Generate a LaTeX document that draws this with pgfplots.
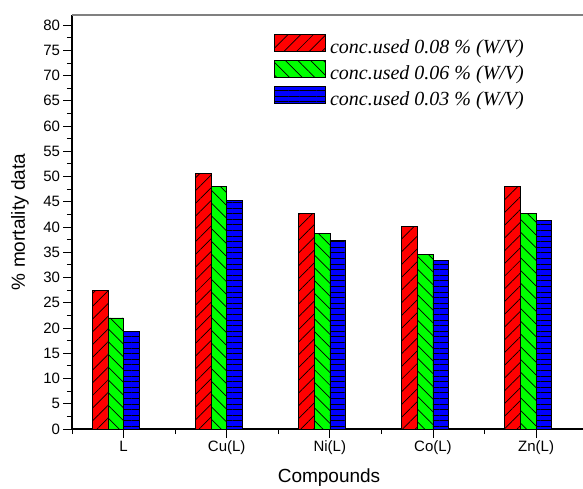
\documentclass[border=0pt]{standalone}
\usepackage{fontspec}
\setmainfont{Liberation Sans}
\newfontfamily\legendfont{Liberation Serif}
\usepackage{pgfplots}
\pgfplotsset{compat=1.18}
\usetikzlibrary{patterns.meta}
\begin{document}
\begin{tikzpicture}
\begin{axis}[
  name=ax,
  at={(0,0)}, anchor=south west,
  scale only axis,
  width=511pt, height=414pt,
  xmin=-0.5, xmax=4.455,
  ymin=0, ymax=82,
  axis x line*=bottom, axis y line*=left,
  axis line style={line width=1.1pt, black},
  xtick={0,1,2,3,4},
  xticklabels={L,Cu(L),Ni(L),Co(L),Zn(L)},
  minor xtick={-0.5,0.5,1.5,2.5,3.5},
  ytick={0,5,...,80},
  minor ytick={2.5,7.5,...,77.5},
  tick align=outside,
  major tick length=8.5pt,
  minor tick length=5pt,
  every tick/.style={black, line width=0.9pt},
  /pgf/number format/assume math mode=true,
  ticklabel style={font=\fontsize{15}{18}\selectfont},
  xlabel={Compounds},
  ylabel={\% mortality data},
  label style={font=\fontsize{19}{22}\selectfont},
  xlabel style={at={(axis description cs:0.503,-0.1184)}, anchor=center},
  ylabel style={at={(axis description cs:-0.1018,0.5)}, anchor=center},
  bar width=0.152,
  legend image code/.code={%
    \pgfpathrectangle{\pgfpoint{0pt}{-3.5pt}}{\pgfpoint{51pt}{20pt}}\pgfusepath{use as bounding box}%
    \draw[#1] (0pt,-3.3pt) rectangle (51pt,14.1pt);},
  legend cell align=left,
  legend style={at={(axis description cs:0.395,0.9595)}, anchor=north west,
    draw=none, fill=none, inner sep=0pt, row sep=0pt, column sep=5pt,
    font=\legendfont\itshape\fontsize{20}{22}\selectfont,
    nodes={inner sep=0pt, text height=14.5pt, text depth=4pt}},
]
\addplot[ybar, bar shift=-0.228, draw=black, line width=0.6pt, fill=red,
  postaction={pattern={Lines[angle=45,distance=9pt,line width=0.7pt]}, pattern color=black}]
  coordinates {(0,27.4) (1,50.7) (2,42.7) (3,40.1) (4,48.1)};
\addlegendentry{conc.used 0.08 \% (W/V)}
\addplot[ybar, bar shift=-0.076, draw=black, line width=0.6pt, fill=green,
  postaction={pattern={Lines[angle=-45,distance=9pt,line width=0.7pt]}, pattern color=black}]
  coordinates {(0,22.0) (1,48.1) (2,38.7) (3,34.6) (4,42.7)};
\addlegendentry{conc.used 0.06 \% (W/V)}
\addplot[ybar, bar shift=0.076, draw=black, line width=0.6pt, fill=blue,
  postaction={pattern={Lines[angle=0,distance=5.6pt,line width=0.8pt]}, pattern color=black}]
  coordinates {(0,19.3) (1,45.3) (2,37.4) (3,33.4) (4,41.3)};
\addlegendentry{conc.used 0.03 \% (W/V)}
\end{axis}
\draw[gray, line width=1.1pt] (ax.north west) -- (ax.north east);
\pgfresetboundingbox
\path (-72pt,-59pt) rectangle (511pt,429pt);
\end{tikzpicture}
\end{document}
